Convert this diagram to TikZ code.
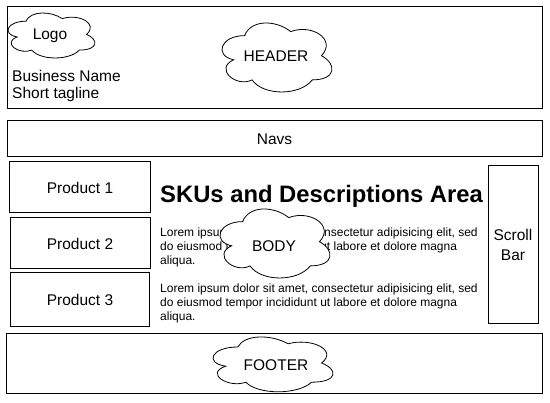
\documentclass[tikz,border=0pt]{standalone}
\usepackage{fontspec}
\setmainfont{Liberation Sans}

\begin{document}
\begin{tikzpicture}[x=1pt, y=-1pt,
  box/.style={draw, line width=1pt, inner sep=0pt},
  lbl/.style={font=\fontsize{15.5}{17.5}\selectfont},
  lorem/.style={font=\fontsize{12}{14.3}\selectfont, align=left, anchor=north west, inner sep=0pt},
  cloudpic/.pic={
    \draw[line width=0.8pt, fill=white] (0.25,0.25) .. controls (0.05,0.25) and (0,0.5) .. (0.16,0.55)
      .. controls (0,0.66) and (0.18,0.9) .. (0.31,0.8)
      .. controls (0.4,1) and (0.7,1) .. (0.8,0.8)
      .. controls (1,0.8) and (1,0.6) .. (0.875,0.5)
      .. controls (1,0.3) and (0.8,0.1) .. (0.625,0.2)
      .. controls (0.5,0.05) and (0.3,0.05) .. cycle;
  }]
\useasboundingbox (0,0) rectangle (550,403);

\node[box, minimum width=535, minimum height=102] (header) at (274.5,58) {};
\node[box, lbl, minimum width=535, minimum height=36] (navs) at (274.5,139) {Navs};
\node[box, lbl, minimum width=141, minimum height=51] (prod1) at (80,187.5) {Product 1};
\node[box, lbl, minimum width=140, minimum height=51] (prod2) at (80,243.5) {Product 2};
\node[box, lbl, minimum width=139, minimum height=54] (prod3) at (80,300) {Product 3};
\node[box, align=center, minimum width=50, minimum height=158, font=\fontsize{15.5}{20}\selectfont] (scroll) at (513,245) {Scroll\\Bar};
\node[box, minimum width=536, minimum height=60] (footer) at (274,364) {};

\node[lbl, align=left, anchor=north west, inner sep=0pt] (bizname) at (12,70) {Business Name\\Short tagline};
\node[font=\bfseries\fontsize{23.8}{28}\selectfont, anchor=base west, inner sep=0pt] (skus) at (160,203) {SKUs and Descriptions Area};
\node[lorem] (para1) at (160,227.4) {Lorem ipsum dolor sit amet, consectetur adipisicing elit, sed\\do eiusmod tempor incididunt ut labore et dolore magna\\aliqua.};
\node[lorem] (para2) at (160,283.4) {Lorem ipsum dolor sit amet, consectetur adipisicing elit, sed\\do eiusmod tempor incididunt ut labore et dolore magna\\aliqua.};

\pic[shift={(1.7,8.1)}, xscale=97, yscale=52.5] {cloudpic};
\node[lbl] (logo) at (50,36) {Logo};
\pic[shift={(214,15.5)}, xscale=122.8, yscale=80.5] {cloudpic};
\node[lbl] (headtext) at (276,56) {HEADER};
\pic[shift={(212,201.5)}, xscale=122.8, yscale=80.5] {cloudpic};
\node[lbl] (bodytext) at (274,246) {BODY};
\pic[shift={(204.3,331)}, xscale=134, yscale=64] {cloudpic};
\node[lbl] (foottext) at (276,365) {FOOTER};
\end{tikzpicture}
\end{document}
